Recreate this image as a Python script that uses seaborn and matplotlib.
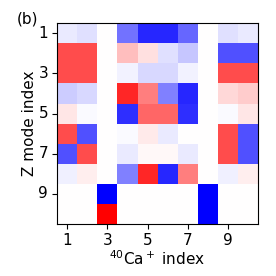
import numpy as np
import seaborn as sns
import matplotlib.pyplot as plt

# mode-participation matrix, rows = Z mode index, columns = 40Ca+ index
row1 = [-0.08, -0.12, 0, -0.55, -0.85, -0.85, -0.6, 0, -0.12, -0.08]
row2 = [0.7, 0.7, 0, 0.25, 0.12, -0.12, -0.22, 0, -0.68, -0.68]
row3 = [0.7, 0.7, 0, -0.05, -0.15, -0.15, -0.05, 0, 0.7, 0.7]
row4 = [-0.2, -0.15, 0, 0.85, 0.5, -0.5, -0.85, 0, 0.15, 0.2]
row5 = [0.1, -0.02, 0, -0.82, 0.6, 0.6, -0.82, 0, -0.02, 0.1]
row6 = [0.7, -0.68, 0, -0.02, 0.08, -0.08, 0, 0, 0.7, -0.68]
row7 = [-0.68, 0.7, 0, -0.08, 0.03, 0.03, -0.08, 0, 0.7, -0.68]
row8 = [-0.06, 0.07, 0, -0.5, 0.85, -0.85, 0.5, 0, -0.06, 0.07]
row9 = [0, 0, -1, 0, 0, 0, 0, -1, 0, 0]
row10 = [0, 0, 1, 0, 0, 0, 0, -1, 0, 0]
tick_labels = ['1', '3', '5', '7', '9']

mat = np.array([row1, row2, row3, row4, row5, row6, row7, row8, row9, row10])

plt.rcParams['font.size'] = 11
fig = plt.figure(figsize=(2.76, 2.76), dpi=100)
ax = fig.add_axes([0.207, 0.188, 0.728, 0.728])
sns.heatmap(mat, cmap='bwr', vmin=-1, vmax=1, cbar=False, ax=ax)
ticks = [0.5, 2.5, 4.5, 6.5, 8.5]
ax.set_xticks(ticks)
ax.set_xticklabels(tick_labels, rotation=0)
ax.set_yticks(ticks)
ax.set_yticklabels(tick_labels, rotation=0)
ax.tick_params(length=3.5, width=0.8, pad=3)
for s in ax.spines.values():
    s.set_visible(True)
    s.set_linewidth(0.8)
ax.set_xlabel(r'$^{40}$Ca$^+$ index', labelpad=1)
ax.set_ylabel('Z mode index', labelpad=1)
fig.text(0.062, 0.915, '(b)', fontsize=11)
fig.savefig('out.png', dpi=100)
